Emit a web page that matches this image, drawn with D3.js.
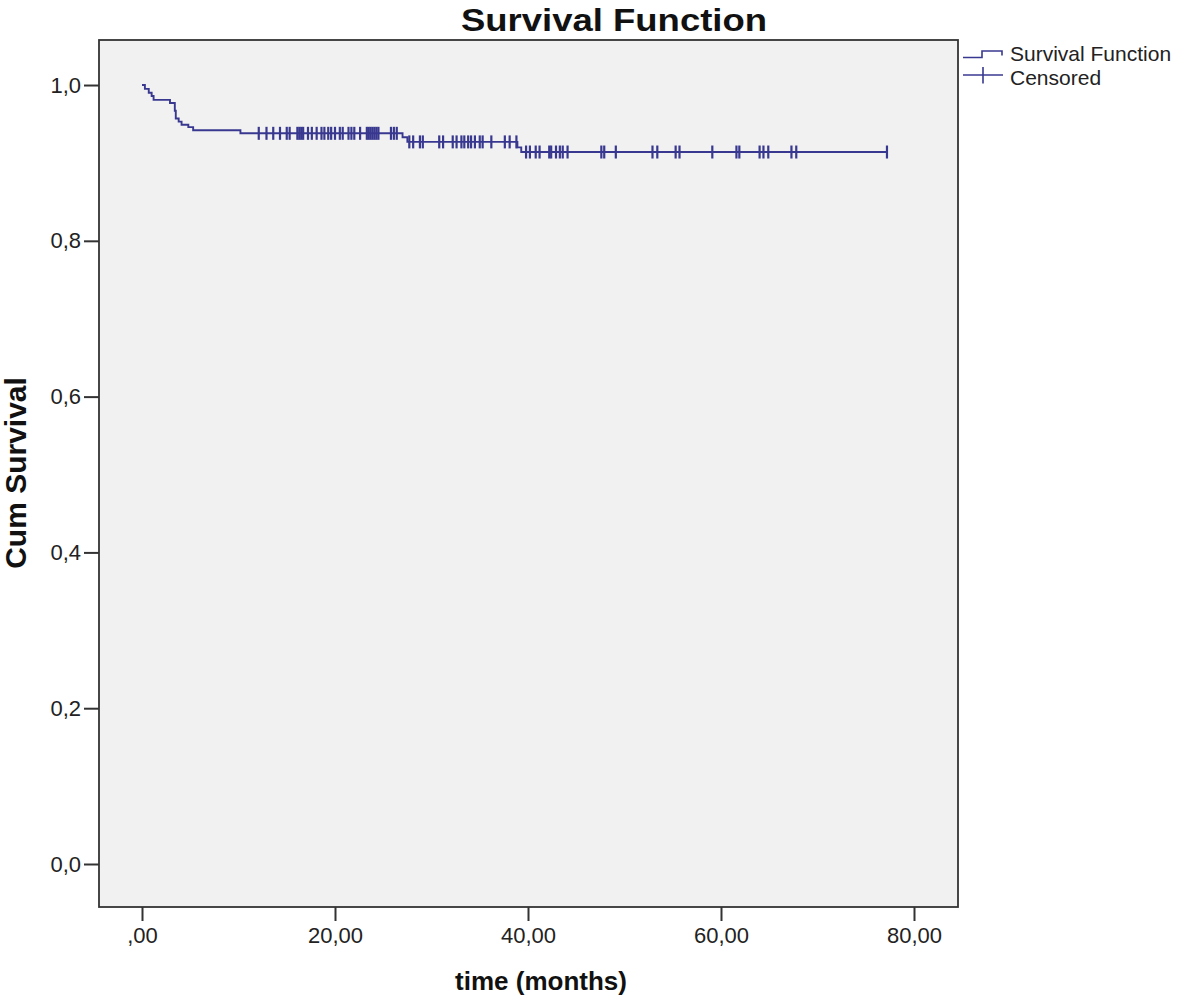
<!DOCTYPE html>
<html>
<head>
<meta charset="utf-8">
<script src="https://cdn.jsdelivr.net/npm/d3@7"></script>
<style>
  html, body { margin: 0; padding: 0; background: #ffffff; }
  svg { display: block; }
</style>
</head>
<body>
<script>
// ---- data ----
const stepTimes = [0, 0.3, 0.7, 1.0, 1.2, 2.9, 3.4, 3.5, 3.8, 4.1, 4.8, 5.3, 10.2, 27.0, 27.5, 38.9, 39.3];
const stepSurv  = [1.0, 0.995, 0.990, 0.986, 0.981, 0.977, 0.967, 0.957, 0.953, 0.949, 0.946, 0.942, 0.938, 0.933, 0.927, 0.920, 0.914];
const lastTime = 77.2;
const censoredTimes = [12.1, 12.9, 13.6, 14.3, 15.0, 15.3, 16.1, 16.3, 16.5, 16.7, 17.2, 17.6, 18.1, 18.6, 18.9,
  19.3, 19.6, 20.0, 20.5, 20.8, 21.4, 21.7, 22.0, 22.6, 23.3, 23.5, 23.7, 23.9, 24.1, 24.3, 24.5, 25.8, 26.1,
  26.4, 27.7, 28.1, 28.8, 29.1, 30.8, 31.2, 32.2, 32.6, 33.1, 33.4, 33.8, 34.1, 34.5, 35.0, 35.3, 36.2, 37.6,
  38.1, 38.8, 39.8, 40.2, 40.8, 41.2, 42.2, 42.4, 42.9, 43.3, 43.6, 44.1, 47.6, 47.9, 49.1, 52.9, 53.4, 55.3,
  55.7, 59.1, 61.6, 61.9, 64.0, 64.4, 64.9, 67.3, 67.8, 77.2];
const xTicks = [0, 20, 40, 60, 80];
const yTicks = [0, 0.2, 0.4, 0.6, 0.8, 1.0];
const titleText = "Survival Function";
const xLabel = "time (months)";
const yLabel = "Cum Survival";
const legendLabels = ["Survival Function", "Censored"];

// ---- layout ----
const W = 1181, H = 1003;
const plot = { left: 99, top: 40, right: 958, bottom: 907 };
const lineColor = "#383890";
const font = "'Liberation Sans', Arial, Helvetica, sans-serif";

const x = d3.scaleLinear().domain([-4.456, 84.56]).range([plot.left, plot.right]);
const y = d3.scaleLinear().domain([-0.0552, 1.0578]).range([plot.bottom, plot.top]);

const svg = d3.select("body").append("svg").attr("width", W).attr("height", H)
  .style("font-family", font);

svg.append("rect").attr("x", plot.left).attr("y", plot.top)
  .attr("width", plot.right - plot.left).attr("height", plot.bottom - plot.top)
  .attr("fill", "#f1f1f1");

// step function path
const pts = [];
stepTimes.forEach((t, i) => {
  if (i > 0) pts.push([t, stepSurv[i - 1]]);
  pts.push([t, stepSurv[i]]);
});
pts.push([lastTime, stepSurv[stepSurv.length - 1]]);
svg.append("path")
  .attr("d", d3.line().x(d => x(d[0])).y(d => y(d[1]))(pts))
  .attr("fill", "none").attr("stroke", lineColor).attr("stroke-width", 1.9);

// censored marks
const survAt = t => stepSurv[d3.bisectRight(stepTimes, t) - 1];
svg.append("g").selectAll("line").data(censoredTimes).join("line")
  .attr("x1", d => x(d)).attr("x2", d => x(d))
  .attr("y1", d => y(survAt(d)) - 6.5).attr("y2", d => y(survAt(d)) + 6.5)
  .attr("stroke", lineColor).attr("stroke-width", 2.2);

// frame
svg.append("rect").attr("x", plot.left).attr("y", plot.top)
  .attr("width", plot.right - plot.left).attr("height", plot.bottom - plot.top)
  .attr("fill", "none").attr("stroke", "#333").attr("stroke-width", 1.8);

// axes
const fmtX = d => d === 0 ? ",00" : d.toFixed(2).replace(".", ",");
const fmtY = d => d.toFixed(1).replace(".", ",");
const gx = svg.append("g").attr("transform", `translate(0,${plot.bottom})`)
  .call(d3.axisBottom(x).tickValues(xTicks).tickFormat(fmtX).tickSize(14).tickPadding(6));
const gy = svg.append("g").attr("transform", `translate(${plot.left},0)`)
  .call(d3.axisLeft(y).tickValues(yTicks).tickFormat(fmtY).tickSize(15).tickPadding(3));
[gx, gy].forEach(g => {
  g.select(".domain").remove();
  g.selectAll(".tick line").attr("stroke", "#333").attr("stroke-width", 2);
  g.selectAll(".tick text").attr("fill", "#222").style("font-size", "22px").style("font-family", font);
});

// titles
svg.append("text").attr("x", 614).attr("y", 31).attr("text-anchor", "middle")
  .attr("textLength", 306).attr("lengthAdjust", "spacingAndGlyphs")
  .style("font-size", "32px").style("font-weight", "bold").attr("fill", "#111")
  .text(titleText);
svg.append("text").attr("x", 541).attr("y", 990).attr("text-anchor", "middle")
  .style("font-size", "26px").style("font-weight", "bold").attr("fill", "#111")
  .text(xLabel);
svg.append("text").attr("transform", "translate(26,473) rotate(-90)").attr("text-anchor", "middle")
  .style("font-size", "30px").style("font-weight", "bold").attr("fill", "#111")
  .text(yLabel);

// legend
const lg = svg.append("g");
lg.append("path").attr("d", "M963,57.5 H982 V51 H1002 V55.5")
  .attr("fill", "none").attr("stroke", lineColor).attr("stroke-width", 1.6);
lg.append("line").attr("x1", 963).attr("x2", 1003).attr("y1", 75).attr("y2", 75)
  .attr("stroke", lineColor).attr("stroke-width", 1.6);
lg.append("line").attr("x1", 983).attr("x2", 983).attr("y1", 67).attr("y2", 83.5)
  .attr("stroke", lineColor).attr("stroke-width", 1.6);
lg.selectAll("text").data(legendLabels).join("text")
  .attr("x", 1010).attr("y", (d, i) => 61 + i * 24)
  .style("font-size", "21px").attr("fill", "#222").text(d => d);
</script>
</body>
</html>
